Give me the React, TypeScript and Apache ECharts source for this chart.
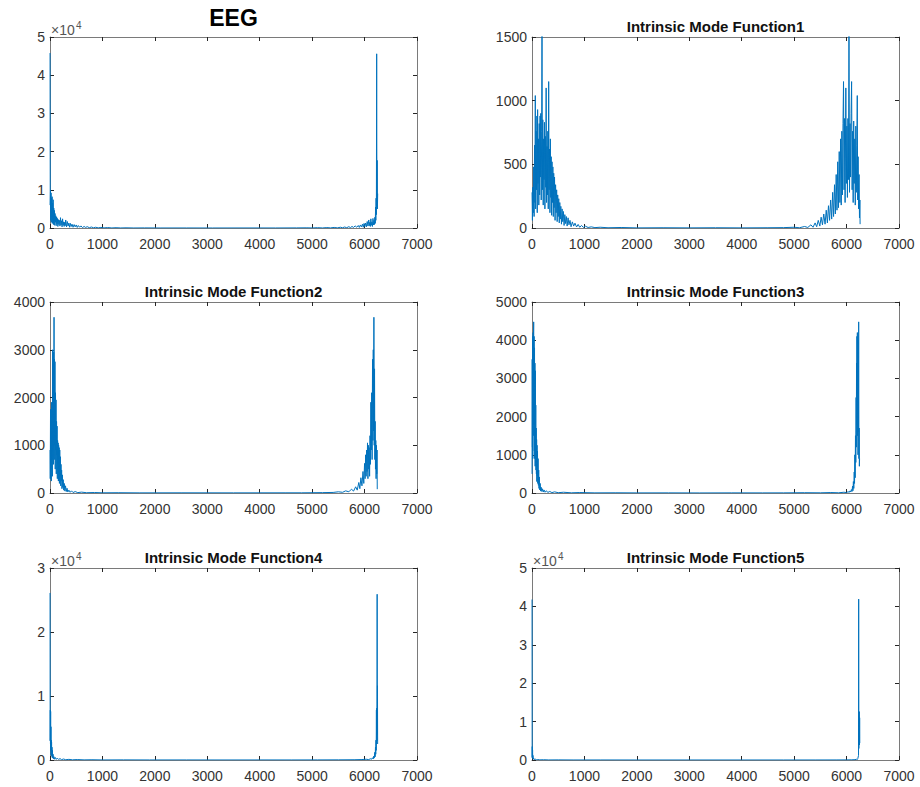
import React, { useEffect, useRef } from "react";
import * as echarts from "echarts";

// ---- data (x = sample index, y = magnitude) ----
const titles = ["EEG", "Intrinsic Mode Function1", "Intrinsic Mode Function2", "Intrinsic Mode Function3", "Intrinsic Mode Function4", "Intrinsic Mode Function5"];
const xTicks = [0, 1000, 2000, 3000, 4000, 5000, 6000, 7000];
const yMax = [50000, 1500, 4000, 5000, 30000, 50000];
const yStep = [10000, 500, 1000, 1000, 10000, 10000];
const yScaled = [true, false, false, false, true, true];

const eegData: number[][] = [
  [1, 45800], [5, 6000], [10, 9800], [15, 2000], [20, 9200], [25, 1500], [30, 7800], [35, 3000], [40, 8200], [45, 1200],
  [50, 6500], [55, 2200], [60, 7400], [66, 900], [72, 5200], [78, 1800], [84, 4600], [90, 700], [96, 3800], [102, 1500],
  [110, 3200], [118, 600], [126, 2900], [134, 1100], [142, 2500], [150, 400], [160, 2200], [170, 900], [180, 2000], [190, 500],
  [200, 2700], [210, 800], [220, 1900], [230, 300], [240, 2400], [250, 700], [260, 1600], [270, 400], [280, 1500], [290, 600],
  [300, 2100], [315, 300], [330, 1700], [345, 500], [360, 1300], [375, 200], [390, 1200], [405, 400], [420, 1000], [440, 200],
  [460, 900], [480, 300], [500, 800], [520, 150], [540, 650], [565, 200], [590, 550], [620, 100], [650, 400], [680, 150],
  [710, 350], [750, 80], [790, 260], [830, 60], [870, 200], [920, 40], [970, 150], [1030, 30], [1100, 110], [1180, 20],
  [1260, 80], [1350, 15], [1450, 50], [1600, 10], [1800, 30], [2100, 10], [2600, 15], [3100, 5], [3700, 15], [4300, 10],
  [4700, 30], [4900, 50], [5000, 15], [5100, 80], [5200, 20], [5280, 110], [5350, 30], [5420, 150], [5480, 40], [5540, 200],
  [5580, 60], [5620, 260], [5660, 80], [5700, 350], [5730, 100], [5760, 400], [5790, 150], [5820, 550], [5850, 200], [5880, 650],
  [5900, 150], [5920, 800], [5940, 300], [5960, 1000], [5975, 200], [5990, 1200], [6005, 400], [6020, 1300], [6035, 300], [6050, 1700],
  [6065, 500], [6080, 2100], [6090, 600], [6100, 1500], [6110, 400], [6120, 2400], [6130, 700], [6140, 1600], [6150, 400], [6160, 2500],
  [6170, 800], [6180, 2000], [6188, 900], [6196, 2800], [6204, 1200], [6210, 5500], [6215, 2000], [6220, 7800], [6225, 3500], [6231, 45600],
  [6235, 6000], [6240, 17700], [6245, 5000], [6250, 9000],
];

const imf1Data: number[][] = [
  [1, 280], [8, 60], [16, 320], [24, 120], [32, 480], [40, 90], [48, 650], [56, 200], [63, 1040], [70, 150],
  [78, 760], [86, 300], [94, 880], [100, 120], [107, 930], [114, 350], [122, 700], [130, 180], [138, 820], [146, 260],
  [154, 880], [160, 400], [168, 900], [176, 220], [184, 760], [191, 1560], [198, 300], [206, 850], [214, 180], [222, 700],
  [230, 380], [238, 830], [246, 150], [254, 720], [262, 320], [270, 1100], [278, 200], [286, 640], [294, 260], [302, 760],
  [310, 150], [318, 1150], [326, 300], [334, 620], [342, 120], [350, 700], [358, 240], [366, 560], [374, 100], [382, 520],
  [390, 200], [398, 480], [406, 90], [414, 430], [422, 160], [430, 400], [440, 60], [450, 340], [460, 120], [470, 300],
  [480, 50], [490, 260], [500, 90], [510, 230], [520, 40], [530, 200], [540, 70], [550, 170], [562, 30], [574, 150],
  [586, 50], [598, 130], [612, 20], [626, 105], [640, 35], [655, 90], [670, 15], [688, 80], [705, 25], [725, 60],
  [745, 10], [770, 48], [795, 15], [820, 38], [850, 8], [880, 28], [910, 6], [945, 20], [980, 5], [1020, 14],
  [1070, 4], [1130, 9], [1200, 3], [1300, 6], [1450, 2], [1700, 4], [2000, 1], [2500, 2], [3000, 1], [3500, 2],
  [4000, 1], [4500, 2], [4800, 3], [5000, 6], [5100, 2], [5200, 12], [5260, 4], [5320, 25], [5360, 6], [5400, 40],
  [5430, 10], [5460, 60], [5490, 15], [5515, 85], [5540, 25], [5565, 110], [5590, 30], [5612, 140], [5634, 40], [5655, 175],
  [5676, 60], [5696, 220], [5716, 70], [5735, 280], [5752, 90], [5770, 340], [5786, 110], [5802, 420], [5817, 140], [5832, 520],
  [5846, 160], [5860, 600], [5873, 200], [5886, 700], [5898, 180], [5910, 760], [5921, 260], [5932, 820], [5942, 1150], [5952, 300],
  [5962, 860], [5972, 200], [5986, 1100], [5996, 350], [6006, 800], [6016, 240], [6026, 860], [6036, 380], [6046, 1540], [6056, 280],
  [6066, 820], [6076, 400], [6086, 900], [6096, 1150], [6106, 300], [6116, 760], [6126, 200], [6136, 840], [6146, 350], [6156, 700],
  [6166, 180], [6176, 800], [6186, 280], [6196, 650], [6204, 1040], [6212, 220], [6220, 560], [6230, 150], [6238, 420], [6246, 80],
  [6254, 220], [6258, 30],
];

const imf2Data: number[][] = [
  [1, 900], [5, 300], [10, 1750], [15, 500], [20, 1200], [25, 250], [30, 1900], [35, 700], [40, 1400], [45, 350],
  [50, 3000], [55, 900], [60, 2700], [65, 600], [70, 2950], [74, 1200], [77, 3680], [80, 1000], [85, 2800], [90, 700],
  [95, 2750], [100, 500], [105, 2100], [110, 900], [115, 1950], [120, 400], [125, 1500], [130, 800], [135, 1400], [140, 300],
  [145, 1100], [150, 600], [155, 1050], [160, 250], [165, 1000], [170, 450], [175, 950], [180, 200], [186, 900], [192, 350],
  [198, 760], [204, 150], [210, 600], [216, 250], [222, 480], [228, 90], [236, 380], [244, 120], [252, 280], [262, 60],
  [272, 200], [284, 40], [296, 150], [310, 30], [325, 100], [340, 20], [360, 60], [385, 15], [410, 45], [440, 10],
  [480, 30], [530, 8], [600, 18], [700, 6], [850, 10], [1000, 4], [1300, 6], [1700, 3], [2500, 4], [3500, 3],
  [4500, 4], [4800, 4], [5200, 8], [5400, 12], [5500, 25], [5580, 15], [5640, 45], [5700, 25], [5750, 80], [5790, 40],
  [5830, 130], [5860, 60], [5890, 220], [5910, 90], [5930, 320], [5950, 150], [5970, 450], [5985, 200], [6000, 620], [6010, 300],
  [6020, 800], [6030, 350], [6040, 900], [6048, 450], [6056, 1050], [6064, 300], [6072, 1000], [6080, 500], [6088, 950], [6096, 350],
  [6104, 1200], [6112, 600], [6120, 1900], [6128, 900], [6136, 2100], [6144, 700], [6152, 2800], [6160, 1100], [6166, 3000], [6172, 1300],
  [6178, 3680], [6184, 1000], [6190, 2600], [6196, 700], [6202, 1500], [6208, 500], [6214, 1100], [6220, 300], [6226, 1000], [6232, 400],
  [6238, 900], [6242, 80],
];

const imf3Data: number[][] = [
  [1, 500], [4, 3500], [8, 1200], [12, 4100], [16, 900], [20, 4200], [24, 1500], [28, 3900], [32, 4480], [36, 1800],
  [40, 4100], [44, 1100], [48, 3800], [52, 900], [56, 3400], [60, 700], [64, 3200], [68, 800], [72, 2300], [76, 600],
  [80, 1700], [84, 500], [88, 1400], [92, 300], [96, 1250], [100, 450], [105, 1100], [110, 250], [116, 900], [122, 200],
  [128, 600], [134, 120], [140, 420], [148, 80], [156, 250], [165, 50], [175, 150], [188, 40], [200, 110], [215, 25],
  [230, 80], [250, 20], [275, 60], [300, 15], [340, 40], [380, 10], [430, 30], [500, 8], [600, 20], [750, 5],
  [900, 12], [1200, 4], [1600, 6], [2000, 3], [2600, 4], [3200, 2], [3800, 4], [4400, 3], [4800, 4], [5200, 8],
  [5500, 5], [5700, 12], [5850, 6], [5950, 20], [6000, 10], [6030, 35], [6050, 15], [6065, 55], [6080, 25], [6092, 90],
  [6104, 40], [6114, 180], [6122, 60], [6130, 300], [6138, 120], [6146, 550], [6152, 250], [6158, 1000], [6164, 400], [6170, 1500],
  [6176, 800], [6182, 2500], [6186, 1200], [6190, 3400], [6194, 1800], [6198, 4100], [6202, 2200], [6206, 4200], [6210, 1500], [6214, 3800],
  [6218, 1000], [6222, 4000], [6226, 1600], [6231, 4480], [6236, 900], [6240, 1700], [6244, 700], [6248, 900],
];

const imf4Data: number[][] = [
  [1, 26100], [3, 3000], [6, 7800], [9, 2500], [12, 7600], [15, 1500], [18, 5200], [21, 800], [24, 3100], [27, 1200],
  [30, 2800], [34, 600], [38, 2000], [42, 400], [46, 1500], [52, 300], [58, 900], [66, 200], [75, 520], [85, 120],
  [100, 400], [120, 100], [140, 300], [165, 80], [190, 220], [220, 60], [260, 150], [300, 40], [360, 100], [430, 30],
  [520, 70], [650, 20], [800, 40], [1000, 10], [1400, 20], [1900, 8], [2600, 10], [3300, 6], [4000, 10], [4600, 8],
  [5100, 15], [5500, 25], [5800, 40], [5950, 70], [6030, 120], [6080, 60], [6110, 200], [6130, 100], [6150, 350], [6165, 150],
  [6175, 600], [6185, 300], [6195, 1200], [6202, 500], [6208, 2000], [6213, 900], [6218, 3100], [6222, 1500], [6226, 7800], [6229, 2500],
  [6233, 8100], [6237, 3000], [6240, 25900], [6243, 4000], [6246, 11600], [6249, 2500],
];

const imf5Data: number[][] = [
  [1, 41800], [3, 600], [5, 3500], [8, 800], [11, 2600], [14, 400], [18, 1200], [24, 200], [32, 500], [45, 100],
  [60, 250], [80, 60], [110, 120], [150, 40], [220, 70], [320, 20], [500, 35], [800, 10], [1300, 15], [2000, 5],
  [3000, 6], [4000, 5], [4800, 8], [5400, 12], [5800, 20], [6000, 30], [6100, 50], [6160, 90], [6190, 200], [6205, 120],
  [6215, 400], [6222, 250], [6228, 1200], [6231, 41900], [6234, 3000], [6237, 9000], [6240, 4000], [6243, 12600], [6246, 3900], [6249, 11000],
  [6252, 4400],
];

const seriesData = [eegData, imf1Data, imf2Data, imf3Data, imf4Data, imf5Data];

// ---- layout ----
const boxes = [
  { left: 50, top: 37, width: 367, height: 191 },
  { left: 532, top: 37, width: 367, height: 191 },
  { left: 50, top: 302, width: 367, height: 191 },
  { left: 532, top: 302, width: 367, height: 191 },
  { left: 50, top: 568, width: 367, height: 192 },
  { left: 532, top: 568, width: 367, height: 192 },
];

const FONT = "'Liberation Sans', Arial, Helvetica, sans-serif";
const AX = "#7a7a7a";
const TXT = "#333333";
const LINE = "#0072BD";

export default function App() {
  const ref = useRef<HTMLDivElement>(null);
  useEffect(() => {
    if (!ref.current) return;
    const chart = echarts.init(ref.current, undefined, { renderer: "svg" });
    const grid: any[] = [];
    const xAxis: any[] = [];
    const yAxis: any[] = [];
    const series: any[] = [];
    const graphic: any[] = [];
    boxes.forEach((b, i) => {
      grid.push({ left: b.left, top: b.top, width: b.width, height: b.height, containLabel: false });
      const tickStyle = { show: true, inside: true, length: 4, lineStyle: { color: "#262626", width: 1 } };
      xAxis.push({
        type: "value", gridIndex: i, position: "bottom", min: xTicks[0], max: xTicks[xTicks.length - 1], interval: 1000,
        axisLine: { show: true, onZero: false, lineStyle: { color: AX, width: 1 } },
        axisTick: tickStyle, splitLine: { show: false },
        axisLabel: { show: true, margin: 9, color: TXT, fontSize: 14, fontFamily: FONT, formatter: (v: number) => String(v) },
      });
      xAxis.push({
        type: "value", gridIndex: i, position: "top", min: xTicks[0], max: xTicks[xTicks.length - 1], interval: 1000,
        axisLine: { show: true, onZero: false, lineStyle: { color: AX, width: 1 } },
        axisTick: tickStyle, splitLine: { show: false }, axisLabel: { show: false },
      });
      const scaled = yScaled[i];
      yAxis.push({
        type: "value", gridIndex: i, position: "left", min: 0, max: yMax[i], interval: yStep[i],
        axisLine: { show: true, onZero: false, lineStyle: { color: AX, width: 1 } },
        axisTick: tickStyle, splitLine: { show: false },
        axisLabel: {
          show: true, margin: 5, color: TXT, fontSize: 14, fontFamily: FONT,
          formatter: (v: number) => (scaled ? String(Math.round(v / 10000)) : String(v)),
        },
      });
      yAxis.push({
        type: "value", gridIndex: i, position: "right", min: 0, max: yMax[i], interval: yStep[i],
        axisLine: { show: true, onZero: false, lineStyle: { color: AX, width: 1 } },
        axisTick: tickStyle, splitLine: { show: false }, axisLabel: { show: false },
      });
      series.push({
        type: "line", xAxisIndex: 2 * i, yAxisIndex: 2 * i, data: seriesData[i], symbol: "none",
        lineStyle: { color: LINE, width: 1 }, itemStyle: { color: LINE }, clip: true, silent: true,
      });
      const cx = b.left + b.width / 2;
      if (i === 0) {
        graphic.push({
          type: "text", x: cx, y: 18,
          style: { text: titles[i], fontSize: 23, fontWeight: "bold", fontFamily: FONT, fill: "#000", textAlign: "center", textVerticalAlign: "middle" },
        });
      } else {
        graphic.push({
          type: "text", x: cx, y: b.top - 11,
          style: { text: titles[i], fontSize: 15, fontWeight: "bold", fontFamily: FONT, fill: "#111", textAlign: "center", textVerticalAlign: "middle" },
        });
      }
      if (scaled) {
        graphic.push({
          type: "text", x: b.left + 1, y: b.top - 7,
          style: { text: "\u00d710", fontSize: 14, fontFamily: FONT, fill: "#555", textAlign: "left", textVerticalAlign: "middle" },
        });
        graphic.push({
          type: "text", x: b.left + 26, y: b.top - 12,
          style: { text: "4", fontSize: 10, fontFamily: FONT, fill: "#555", textAlign: "left", textVerticalAlign: "middle" },
        });
      }
    });
    chart.setOption({
      animation: false,
      backgroundColor: "#ffffff",
      grid, xAxis, yAxis, series, graphic,
    });
    return () => chart.dispose();
  }, []);
  return <div ref={ref} style={{ position: "absolute", left: 0, top: 0, width: 920, height: 787 }} />;
}
